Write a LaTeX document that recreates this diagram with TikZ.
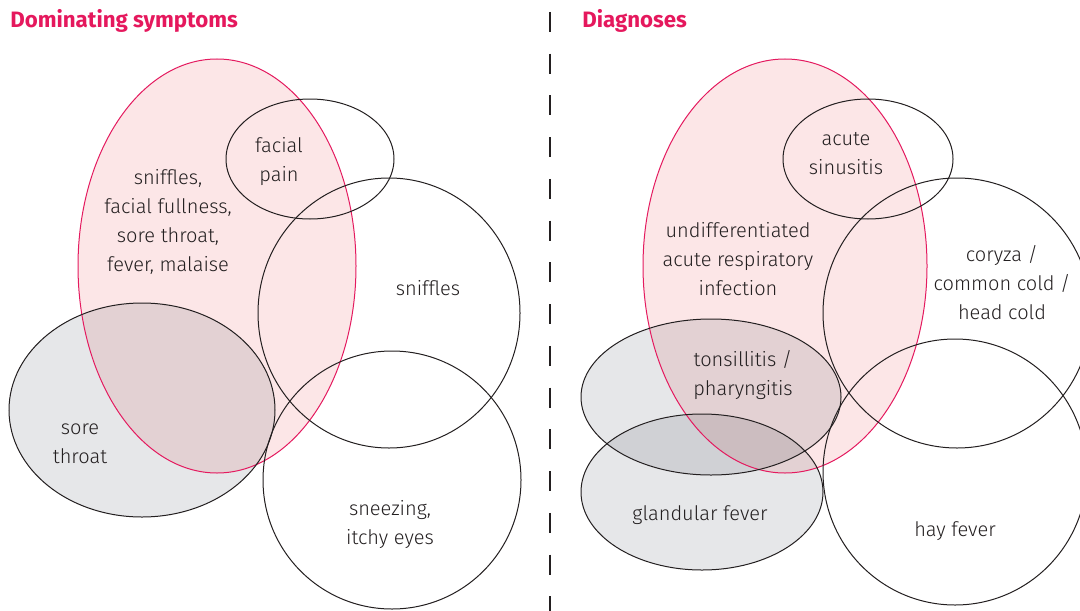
\documentclass[tikz,border=0pt]{standalone}
\usepackage{fontspec}
\IfFontExistsTF{Fira Sans Light}{\newfontfamily\bodyfont{Fira Sans Light}}{\newfontfamily\bodyfont{Fira Sans}}
\newfontfamily\titlefont{Fira Sans}
\definecolor{pinkline}{RGB}{228,26,95}
\definecolor{titlepink}{RGB}{229,24,93}
\definecolor{pinkfill}{RGB}{252,230,231}
\definecolor{grayfill}{RGB}{230,231,233}
\definecolor{pgfill}{RGB}{227,209,211}
\definecolor{ggfill}{RGB}{208,209,213}
\definecolor{pggfill}{RGB}{204,189,192}
\definecolor{ink}{RGB}{35,31,32}
\tikzset{
  lbl/.style={align=center, inner sep=0pt, text=ink, font=\bodyfont\fontsize{15}{21.75}\selectfont},
  ttl/.style={anchor=base west, inner sep=0pt, text=titlepink, font=\titlefont\bfseries\fontsize{16.7}{19}\selectfont},
  blackline/.style={draw=ink, line width=0.75pt},
  pinkedge/.style={draw=pinkline, line width=0.75pt},
}
\begin{document}
\begin{tikzpicture}[x=0.75pt,y=-0.75pt]
\clip (0,0) rectangle (1080,610);
% shapes
\def\PL{(217,266) ellipse [x radius=139, y radius=207]}
\def\FP{(310,159) ellipse [x radius=84, y radius=60]}
\def\SN{(389,313) ellipse [x radius=131, y radius=135]}
\def\ST{(142,410) ellipse [x radius=133, y radius=107]}
\def\SZ{(392,480) ellipse [x radius=129, y radius=129]}
\def\PR{(785,266) ellipse [x radius=142, y radius=207]}
\def\AS{(868,159) ellipse [x radius=85, y radius=60]}
\def\CO{(957,313) ellipse [x radius=134, y radius=135]}
\def\HF{(955,472) ellipse [x radius=132, y radius=133]}
\def\TO{(711,397) ellipse [x radius=130, y radius=78]}
\def\GF{(702,492) ellipse [x radius=121, y radius=78]}
% fills
\fill[pinkfill] \PL;
\fill[pinkfill] \PR;
\fill[grayfill] \ST;
\fill[grayfill] \TO;
\fill[grayfill] \GF;
\begin{scope}
  \clip \PL;
  \fill[pgfill] \ST;
\end{scope}
\begin{scope}
  \clip \PR;
  \fill[pgfill] \TO;
  \fill[pgfill] \GF;
\end{scope}
\begin{scope}
  \clip \TO;
  \fill[ggfill] \GF;
  \clip \PR;
  \fill[pggfill] \GF;
\end{scope}
% outlines
\draw[pinkedge] \PL;
\draw[pinkedge] \PR;
\draw[blackline] \FP;
\draw[blackline] \SN;
\draw[blackline] \ST;
\draw[blackline] \SZ;
\draw[blackline] \AS;
\draw[blackline] \CO;
\draw[blackline] \HF;
\draw[blackline] \TO;
\draw[blackline] \GF;
% divider
\coordinate (divtop) at (550,12);
\coordinate (divbot) at (550,612);
\draw[ink, line width=1pt, dash pattern=on 15pt off 16.3pt] (divtop) -- (divbot);
% titles
\node[ttl] (t1) at (10,28) {Dominating symptoms};
\node[ttl] (t2) at (582,28) {Diagnoses};
% labels left
\node[lbl] (l1) at (168,222) {sniffles,\\facial fullness,\\sore throat,\\fever, malaise};
\node[lbl] (l2) at (279,162) {facial\\pain};
\node[lbl] (l3) at (428,288) {sniffles};
\node[lbl] (l4) at (80,444) {sore\\throat};
\node[lbl] (l5) at (390,525) {sneezing,\\itchy eyes};
% labels right
\node[lbl] (r1) at (846,154) {acute\\sinusitis};
\node[lbl] (r2) at (738,259) {undifferentiated\\acute respiratory\\infection};
\node[lbl] (r3) at (1002,283) {coryza /\\common cold /\\head cold};
\node[lbl] (r4) at (743,375) {tonsillitis /\\pharyngitis};
\node[lbl] (r5) at (700,515) {glandular fever};
\node[lbl] (r6) at (955,531) {hay fever};
\end{tikzpicture}
\end{document}
